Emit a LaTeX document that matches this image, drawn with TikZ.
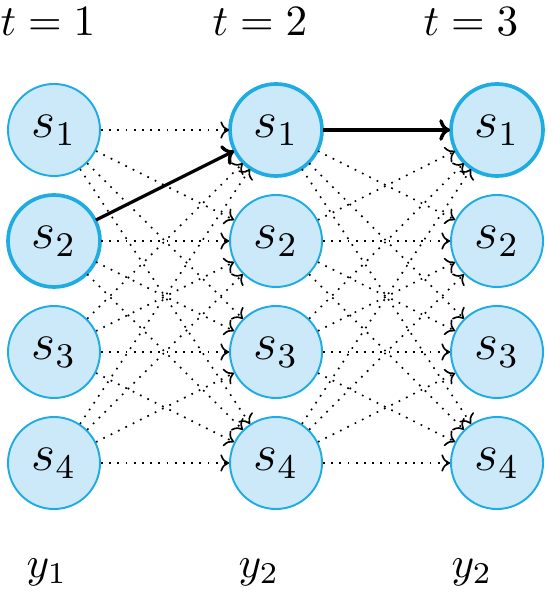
\documentclass[tikz,border=0pt]{standalone}
\usetikzlibrary{arrows.meta}
\definecolor{nodefill}{RGB}{204,233,250}
\definecolor{nodeedge}{RGB}{30,172,226}
\begin{document}
\begin{tikzpicture}[x=0.2316pt,y=-0.2316pt,
  state/.style={circle,draw=nodeedge,fill=nodefill,line width=0.45pt,minimum size=92*0.2316pt,inner sep=0pt,font=\large},
  chosen/.style={line width=0.85pt},
  trans/.style={dash pattern=on 0.4pt off 1.5pt,line width=0.38pt,-{To[length=2pt,width=4pt]}},
  path/.style={line width=0.75pt,-{To[length=2.5pt,width=5pt]}}]
\useasboundingbox (0,0) rectangle (551,593);
\foreach \c/\x in {1/54,2/276,3/497}{
  \foreach \r/\y in {1/130,2/241,3/352,4/463}{
    \node[state] (n\c\r) at (\x,\y) {$s_{\r}$};
  }
}
\node[state,chosen] at (n12) {$s_2$};
\node[state,chosen] at (n21) {$s_1$};
\node[state,chosen] at (n31) {$s_1$};
\foreach \a/\b in {1/2,2/3}{
  \foreach \i in {1,...,4}{
    \foreach \j in {1,...,4}{
      \draw[trans] (n\a\i) -- (n\b\j);
    }
  }
}
\draw[path] (n12) -- (n21);
\draw[path] (n21) -- (n31);
\node (t1) at (48,22) {$t=1$};
\node (t2) at (260,22) {$t=2$};
\node (t3) at (471,22) {$t=3$};
\node (y1) at (47,572) {$y_1$};
\node (y2) at (259,572) {$y_2$};
\node (y3) at (472,572) {$y_2$};
\end{tikzpicture}
\end{document}
